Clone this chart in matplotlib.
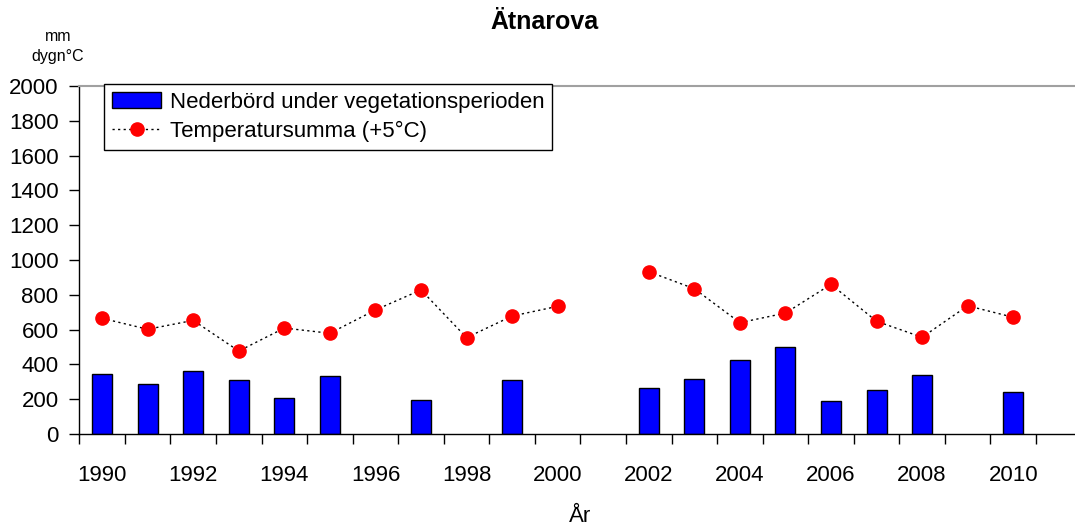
import numpy as np
import matplotlib
matplotlib.use("Agg")
import matplotlib.pyplot as plt

plt.rcParams['font.family'] = ['Liberation Sans', 'DejaVu Sans']

# Years on the category axis
years = list(range(1990, 2012))

# Precipitation during the growing season (mm); None = no measurement
precip = [347, 286, 364, 309, 205, 333, None, 197, None, 309, None,
          None, 264, 314, 425, 500, 190, 251, 339, None, 240, None]

# Temperature sum above +5 °C (degree days); None = no measurement
tempsum = [665, 602, 653, 477, 609, 579, 713, 828, 554, 678, 734,
           None, 933, 835, 640, 695, 860, 648, 556, 737, 671, None]

year_labels = [str(y) for y in range(1990, 2011, 2)]
y_ticks = list(range(0, 2001, 200))

x = np.array(years, dtype=float)
p = np.array([np.nan if v is None else v for v in precip], dtype=float)
t = np.array([np.nan if v is None else v for v in tempsum], dtype=float)
has_p = ~np.isnan(p)

fig = plt.figure(figsize=(10.75, 5.30), dpi=100)
ax = fig.add_axes([0.0738, 0.1811, 0.9323, 0.6566])

bars = ax.bar(x[has_p], p[has_p], width=0.44, color='#0000FF',
              edgecolor='black', linewidth=1.0,
              label='Nederbörd under vegetationsperioden', zorder=2)
line, = ax.plot(x, t, linestyle=(0, (1.6, 2.4)), color='black',
                linewidth=1.0, marker='o', markersize=9.5,
                markerfacecolor='#FF0000', markeredgecolor='#FF0000',
                label='Temperatursumma (+5°C)', zorder=3)

ax.set_xlim(1989.5, 2011.5)
ax.set_ylim(0, 2000)

# Labels at every second year, tick marks on the category boundaries
ax.set_xticks([int(s) for s in year_labels])
ax.set_xticklabels(year_labels, fontsize=16)
ax.tick_params(axis='x', which='major', length=0, pad=22)
ax.set_xticks(np.arange(1989.5, 2011.6, 1.0), minor=True)
ax.tick_params(axis='x', which='minor', length=7, width=1.0, direction='out')

ax.set_yticks(y_ticks)
ax.set_yticklabels([str(v) for v in y_ticks], fontsize=16)
ax.tick_params(axis='y', length=7, width=1.0, direction='out', pad=8)

for side in ('left', 'bottom'):
    ax.spines[side].set_color('black')
    ax.spines[side].set_linewidth(1.0)
ax.spines['top'].set_color('#A0A0A0')
ax.spines['top'].set_linewidth(1.5)
ax.spines['right'].set_visible(False)

fig.text(0.5065, 0.958, 'Ätnarova', ha='center', va='center',
         fontsize=18, fontweight='bold')
fig.text(0.054, 0.932, 'mm', ha='center', va='center', fontsize=11.5)
fig.text(0.054, 0.893, 'dygn°C', ha='center', va='center', fontsize=11.5)
fig.text(0.5395, 0.025, 'År', ha='center', va='center', fontsize=16)

leg = ax.legend(handles=[bars, line], loc='upper left',
                bbox_to_anchor=(0.0249, 1.005),
                fontsize=16, frameon=True, fancybox=False, shadow=False,
                edgecolor='black', framealpha=1.0, borderpad=0.35,
                labelspacing=0.35, handlelength=2.2, handleheight=0.75,
                handletextpad=0.4, borderaxespad=0.0)
leg.get_frame().set_linewidth(1.0)
leg.set_zorder(5)

fig.savefig('out.png', dpi=100)
